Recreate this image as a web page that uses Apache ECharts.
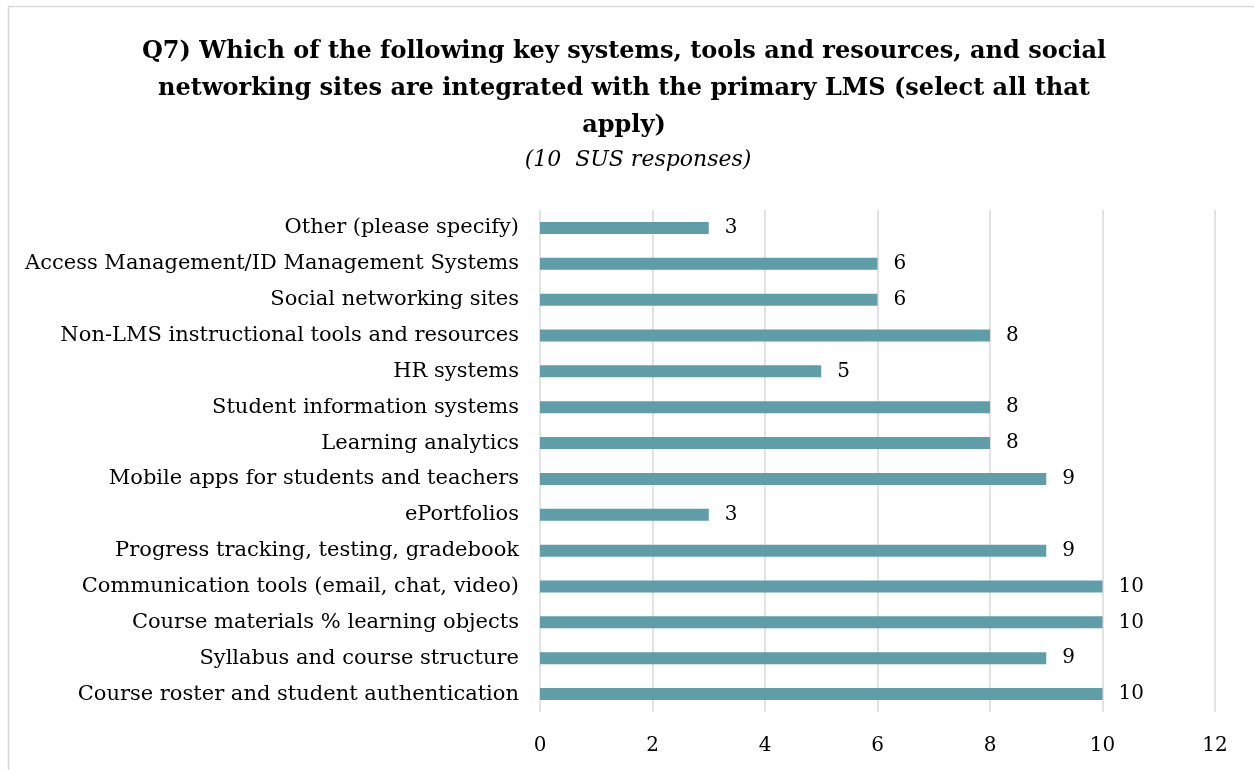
<!DOCTYPE html>
<html>
<head>
<meta charset="utf-8">
<script src="https://cdn.jsdelivr.net/npm/echarts@6/dist/echarts.min.js"></script>
<style>html,body{margin:0;padding:0;background:#fff}#c{width:1254px;height:770px}</style>
</head>
<body>
<div id="c"></div>
<script>
const categories = [
  "Course roster and student authentication",
  "Syllabus and course structure",
  "Course materials % learning objects",
  "Communication tools (email, chat, video)",
  "Progress tracking, testing, gradebook",
  "ePortfolios",
  "Mobile apps for students and teachers",
  "Learning analytics",
  "Student information systems",
  "HR systems",
  "Non-LMS instructional tools and resources",
  "Social networking sites",
  "Access Management/ID Management Systems",
  "Other (please specify)"
];
const values = [10, 9, 10, 10, 9, 3, 9, 8, 8, 5, 8, 6, 6, 3];
const xTicks = [0, 2, 4, 6, 8, 10, 12];
const titleText = "Q7) Which of the following key systems, tools and resources, and social\nnetworking sites are integrated with the primary LMS (select all that\napply)";
const subtitleText = "(10  SUS responses)";

const serif = "'DejaVu Serif', 'Liberation Serif', serif";
const chart = echarts.init(document.getElementById('c'), null, {renderer: 'canvas'});
chart.setOption({
  backgroundColor: '#fff',
  animation: false,
  graphic: [{
    type: 'rect', left: 6, top: 4, silent: true,
    shape: {width: 1300, height: 820},
    style: {fill: 'none', stroke: '#d9d9d9', lineWidth: 1.5}
  }],
  title: [{
    text: titleText,
    left: 619, top: 28, textAlign: 'center',
    textStyle: {fontFamily: serif, fontWeight: 'bold', fontSize: 24, lineHeight: 37, color: '#000', align: 'center'}
  }, {
    text: subtitleText,
    left: 633, top: 144, textAlign: 'center',
    textStyle: {fontFamily: serif, fontStyle: 'italic', fontWeight: 'normal', fontSize: 22, color: '#000'}
  }],
  grid: {left: 540, right: 39, top: 210, bottom: 58, containLabel: false},
  xAxis: {
    type: 'value', min: 0, max: 12, interval: 2,
    axisLine: {show: false}, axisTick: {show: false},
    splitLine: {show: true, lineStyle: {color: '#d9d9d9', width: 1.5}},
    axisLabel: {
      fontFamily: serif, fontSize: 20, color: '#000', margin: 24,
      formatter: v => xTicks.includes(v) ? String(v) : ''
    }
  },
  yAxis: {
    type: 'category', data: categories,
    axisLine: {show: false}, axisTick: {show: false},
    axisLabel: {fontFamily: serif, fontSize: 21, color: '#000', margin: 21}
  },
  series: [{
    type: 'bar', data: values, barWidth: 12,
    itemStyle: {color: '#5f9ea9'},
    label: {show: true, position: 'right', distance: 16, fontFamily: serif, fontSize: 20, color: '#000'}
  }]
});
</script>
</body>
</html>
